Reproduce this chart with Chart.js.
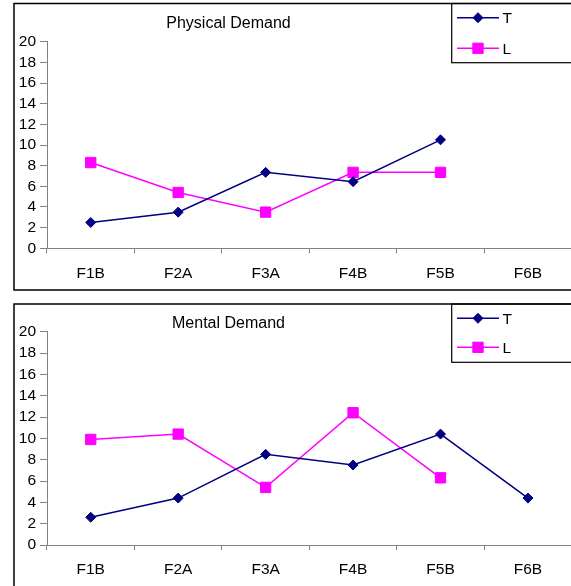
<!DOCTYPE html>
<html>
<head>
<meta charset="utf-8">
<script src="https://cdn.jsdelivr.net/npm/chart.js@4.4.0/dist/chart.umd.min.js"></script>
<style>
  html, body { margin: 0; padding: 0; background: #fff; overflow: hidden; width: 571px; height: 586px; }
  .panel { position: absolute; left: 0; width: 580px; }
  #topPanel { top: 0; height: 295px; }
  #bottomPanel { top: 295px; height: 291px; }
  canvas { display: block; }
</style>
</head>
<body>
<div class="panel" id="topPanel"><canvas id="physical" width="580" height="295"></canvas></div>
<div class="panel" id="bottomPanel"><canvas id="mental" width="580" height="291"></canvas></div>
<script>
// Task categories along the x axis
const categories = ['F1B', 'F2A', 'F3A', 'F4B', 'F5B', 'F6B'];

// Physical demand scores
const physicalT = [2.5, 3.5, 7.35, 6.45, 10.5, null];
const physicalL = [8.3, 5.4, 3.5, 7.35, 7.35, null];

// Mental demand scores
const mentalT = [2.6, 4.4, 8.5, 7.5, 10.4, 4.4];
const mentalL = [9.9, 10.4, 5.4, 12.4, 6.3, null];

// Value axis ticks
const yTicks = [0, 2, 4, 6, 8, 10, 12, 14, 16, 18, 20];

const seriesNames = ['T', 'L'];

const FONT = "'Liberation Sans', Arial, Helvetica, sans-serif";
const NAVY = '#000080';
const MAGENTA = '#FF00FF';
const AXIS_GREY = '#808080';

function datasetsFor(tValues, lValues) {
  return [
    {
      label: seriesNames[0],
      data: tValues,
      borderColor: NAVY,
      backgroundColor: NAVY,
      borderWidth: 1.5,
      pointStyle: 'rectRot',
      pointRadius: 5,
      pointHoverRadius: 5,
      pointBorderWidth: 1,
      pointBackgroundColor: NAVY,
      pointBorderColor: NAVY,
      tension: 0,
      spanGaps: false
    },
    {
      label: seriesNames[1],
      data: lValues,
      borderColor: MAGENTA,
      backgroundColor: MAGENTA,
      borderWidth: 1.5,
      pointStyle: 'rect',
      pointRadius: 7.3,
      pointHoverRadius: 7.3,
      pointBorderWidth: 1,
      pointBackgroundColor: MAGENTA,
      pointBorderColor: MAGENTA,
      tension: 0,
      spanGaps: false
    }
  ];
}

// Frame, title and boxed legend drawn on top of each panel
const panelDecor = {
  id: 'panelDecor',
  afterDraw(chart, args, opts) {
    const ctx = chart.ctx;
    ctx.save();

    // outer frame
    ctx.strokeStyle = '#000';
    ctx.lineWidth = 1.5;
    ctx.strokeRect(opts.frame.x, opts.frame.y, opts.frame.w, opts.frame.h);

    // title
    ctx.fillStyle = '#000';
    ctx.font = '16px ' + FONT;
    ctx.textAlign = 'center';
    ctx.textBaseline = 'middle';
    ctx.fillText(opts.title.text, opts.title.x, opts.title.y);

    // legend box
    const lg = opts.legend;
    ctx.lineWidth = 1.2;
    ctx.strokeStyle = '#000';
    ctx.strokeRect(lg.x, lg.y, lg.w, lg.h);

    chart.data.datasets.forEach((ds, i) => {
      const y = lg.rows[i];
      ctx.strokeStyle = ds.borderColor;
      ctx.lineWidth = 1.5;
      ctx.beginPath();
      ctx.moveTo(lg.lineX1, y);
      ctx.lineTo(lg.lineX2, y);
      ctx.stroke();

      ctx.fillStyle = ds.pointBackgroundColor;
      ctx.strokeStyle = ds.pointBorderColor;
      ctx.lineWidth = 1;
      Chart.helpers.drawPoint(ctx, {
        pointStyle: ds.pointStyle,
        radius: ds.pointStyle === 'rect' ? 7.3 : 5,
        rotation: 0,
        borderWidth: 1
      }, (lg.lineX1 + lg.lineX2) / 2, y);

      ctx.fillStyle = '#000';
      ctx.font = '15.5px ' + FONT;
      ctx.textAlign = 'left';
      ctx.textBaseline = 'middle';
      ctx.fillText(ds.label, lg.textX, y + 1);
    });

    ctx.restore();
  }
};

function makeChart(canvasId, tValues, lValues, geom) {
  return new Chart(document.getElementById(canvasId), {
    type: 'line',
    data: { labels: categories, datasets: datasetsFor(tValues, lValues) },
    plugins: [panelDecor],
    options: {
      responsive: false,
      animation: false,
      events: [],
      layout: { padding: { left: 0, top: geom.padTop, right: 7.4, bottom: 0 } },
      plugins: {
        legend: { display: false },
        title: { display: false },
        tooltip: { enabled: false },
        panelDecor: geom.decor
      },
      scales: {
        x: {
          type: 'category',
          offset: true,
          grid: {
            offset: true,
            drawOnChartArea: false,
            drawTicks: true,
            tickLength: 5,
            color: AXIS_GREY,
            lineWidth: 1
          },
          border: { display: true, color: AXIS_GREY, width: 1 },
          ticks: {
            color: '#000',
            font: { family: FONT, size: 15.5 },
            padding: geom.xPad,
            maxRotation: 0,
            autoSkip: false
          },
          afterFit(scale) { scale.height = geom.xHeight; }
        },
        y: {
          min: 0,
          max: 20,
          afterBuildTicks(scale) { scale.ticks = yTicks.map(v => ({ value: v })); },
          grid: {
            drawOnChartArea: false,
            drawTicks: true,
            tickLength: 7,
            color: AXIS_GREY,
            lineWidth: 1
          },
          border: { display: true, color: AXIS_GREY, width: 1 },
          ticks: {
            color: '#000',
            font: { family: FONT, size: 15.5 },
            padding: 4,
            autoSkip: false
          },
          afterFit(scale) { scale.width = 47; }
        }
      }
    }
  });
}

makeChart('physical', physicalT, physicalL, {
  padTop: 41.7,
  xHeight: 46.7,
  xPad: 11,
  decor: {
    frame: { x: 14, y: 3.5, w: 600, h: 286.5 },
    title: { text: 'Physical Demand', x: 228.5, y: 24 },
    legend: { x: 451.7, y: 3.5, w: 200, h: 59.2, rows: [17.7, 48.3], lineX1: 457, lineX2: 499, textX: 502.5 }
  }
});

makeChart('mental', mentalT, mentalL, {
  padTop: 36.7,
  xHeight: 41,
  xPad: 10,
  decor: {
    frame: { x: 14, y: 9, w: 600, h: 400 },
    title: { text: 'Mental Demand', x: 228.5, y: 28.8 },
    legend: { x: 451.7, y: 9, w: 200, h: 58.3, rows: [23.3, 52.3], lineX1: 457, lineX2: 499, textX: 502.5 }
  }
});
</script>
</body>
</html>
